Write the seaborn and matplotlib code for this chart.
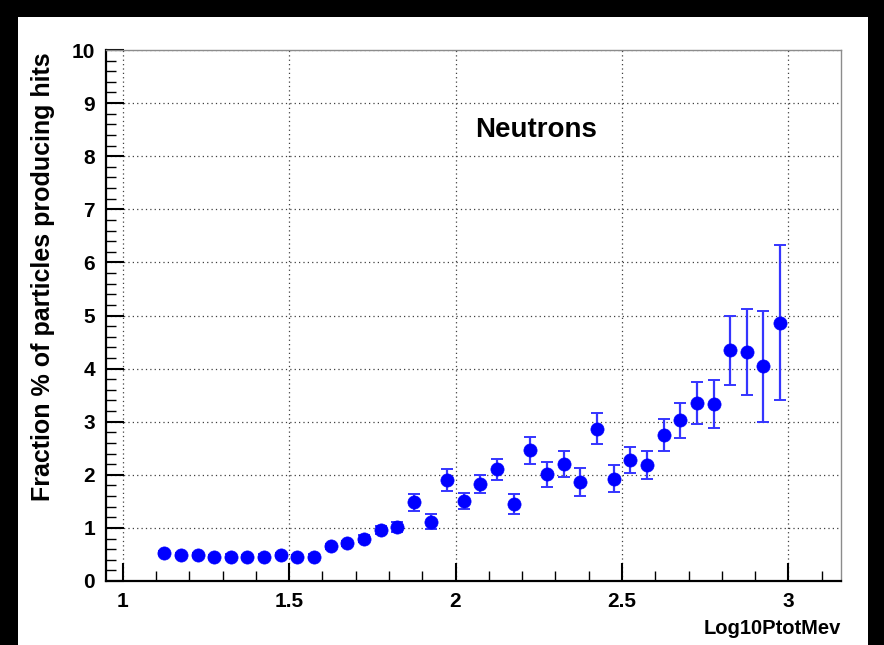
import matplotlib
matplotlib.use("Agg")
import matplotlib.pyplot as plt
from matplotlib.patches import Rectangle
from matplotlib.ticker import MultipleLocator
import seaborn as sns
import pandas as pd

# ---- data ----
log10_ptot = [1.125, 1.175, 1.225, 1.275, 1.325, 1.375, 1.425, 1.475, 1.525, 1.575,
              1.625, 1.675, 1.725, 1.775, 1.825, 1.875, 1.925, 1.975, 2.025, 2.075,
              2.125, 2.175, 2.225, 2.275, 2.325, 2.375, 2.425, 2.475, 2.525, 2.575,
              2.625, 2.675, 2.725, 2.775, 2.825, 2.875, 2.925, 2.975]
fraction = [0.53, 0.49, 0.49, 0.45, 0.46, 0.45, 0.46, 0.49, 0.45, 0.46,
            0.65, 0.71, 0.80, 0.96, 1.02, 1.48, 1.12, 1.90, 1.50, 1.82,
            2.10, 1.45, 2.46, 2.01, 2.20, 1.86, 2.87, 1.93, 2.28, 2.18,
            2.75, 3.03, 3.35, 3.33, 4.35, 4.31, 4.04, 4.86]
fraction_err = [0.04, 0.04, 0.04, 0.04, 0.04, 0.04, 0.04, 0.04, 0.04, 0.04,
                0.05, 0.05, 0.06, 0.07, 0.10, 0.16, 0.14, 0.20, 0.15, 0.17,
                0.19, 0.19, 0.25, 0.24, 0.25, 0.26, 0.29, 0.26, 0.25, 0.26,
                0.31, 0.33, 0.39, 0.45, 0.65, 0.81, 1.05, 1.46]
x_ticks = [1, 1.5, 2, 2.5, 3]
x_tick_labels = ["1", "1.5", "2", "2.5", "3"]
y_ticks = list(range(0, 11))
y_tick_labels = [str(v) for v in y_ticks]
x_label = "Log10PtotMev"
y_label = "Fraction % of particles producing hits"
annotation = "Neutrons"

df = pd.DataFrame({"x": log10_ptot, "y": fraction, "err": fraction_err})

sns.set_theme(style="white")
plt.rcParams["font.family"] = ["Liberation Sans", "DejaVu Sans"]
plt.rcParams["font.weight"] = "bold"

W, H = 884, 645
fig = plt.figure(figsize=(W / 100, H / 100), dpi=100, facecolor="black")
fig.patches.append(Rectangle((18 / W, 0), 850 / W, (H - 17) / H,
                             transform=fig.transFigure, facecolor="white",
                             edgecolor="none", zorder=-10))

ax = fig.add_axes([106 / W, (H - 581) / H, (841 - 106) / W, (581 - 50) / H])
ax.set_zorder(5)
ax.set_facecolor("white")

ax.errorbar(df["x"], df["y"], yerr=df["err"], fmt="none", ecolor="#3535ff",
            elinewidth=1.6, capsize=4, capthick=1.4, zorder=3)
sns.scatterplot(data=df, x="x", y="y", ax=ax, color="#0000ff", s=90,
                marker="o", edgecolor="#0000ff", linewidth=0.5, zorder=4,
                legend=False)

ax.set_xlim(0.95, 3.158)
ax.set_ylim(0, 10)
ax.set_xticks(x_ticks)
ax.set_xticklabels(x_tick_labels)
ax.set_yticks(y_ticks)
ax.set_yticklabels(y_tick_labels)
ax.xaxis.set_minor_locator(MultipleLocator(0.1))
ax.yaxis.set_minor_locator(MultipleLocator(0.2))

ax.tick_params(axis="both", which="major", direction="in", length=13, width=1.5,
               color="black", labelsize=15, labelcolor="black")
ax.tick_params(axis="both", which="minor", direction="in", length=7, width=1.0,
               color="black")
ax.tick_params(axis="x", which="both", bottom=True, top=False, pad=8)
ax.tick_params(axis="y", which="both", left=True, right=False, pad=8)
for lab in ax.get_xticklabels() + ax.get_yticklabels():
    lab.set_fontweight("bold")

ax.grid(True, which="major", color="0.25", linestyle=(0, (1, 2.5)), linewidth=0.9)
ax.set_axisbelow(True)

for side in ["left", "bottom"]:
    ax.spines[side].set_color("black")
    ax.spines[side].set_linewidth(1.6)
for side in ["top", "right"]:
    ax.spines[side].set_color("0.55")
    ax.spines[side].set_linewidth(1.0)

ax.set_xlabel("")
ax.set_ylabel("")
fig.text(43 / W, 1 - 277 / H, y_label, rotation=90, ha="center", va="center",
         fontsize=18, fontweight="bold", color="black", zorder=6)
fig.text(841 / W, 1 - 629 / H, x_label, ha="right", va="center",
         fontsize=14.5, fontweight="bold", color="black", zorder=6)
ax.text(2.242, 8.5, annotation, ha="center", va="center", fontsize=20,
        fontweight="bold", color="black")

fig.savefig("out.png", dpi=100, facecolor=fig.get_facecolor())
